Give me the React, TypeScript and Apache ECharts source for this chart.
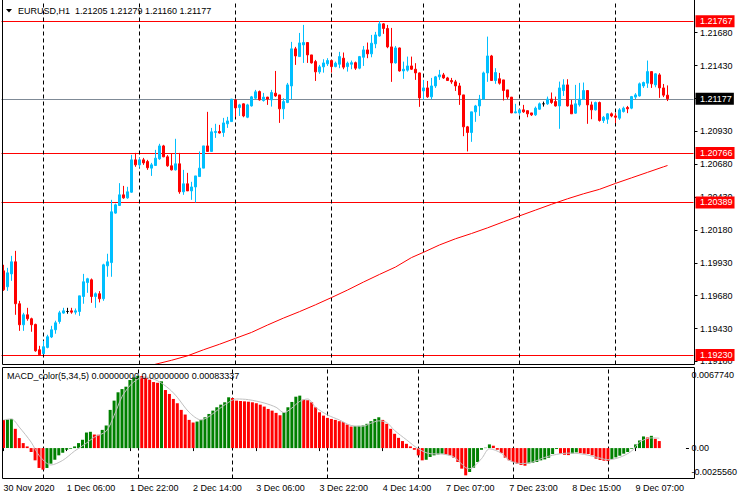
import React, { useEffect, useRef } from 'react';
import * as echarts from 'echarts';

const SYMBOL = 'EURUSD,H1';
const MACD_NAME = 'MACD_color(5,34,5)';
const MACD_HEADER_VALUES = ['0.00000000', '0.00000000', '0.00083337'];

// [open, high, low, close] per H1 bar, from 30 Nov 14:00 to 9 Dec 13:00
const OHLC: number[][] = [
  [1.19869, 1.19915, 1.19717, 1.19725], [1.19748, 1.19892, 1.19717, 1.19854], [1.19846, 1.19983, 1.19793, 1.19938],
  [1.19938, 1.20021, 1.19535, 1.19619], [1.19619, 1.19641, 1.19413, 1.19459], [1.19459, 1.19550, 1.19413, 1.19535],
  [1.19535, 1.19588, 1.19490, 1.19505], [1.19505, 1.19513, 1.19406, 1.19459], [1.19462, 1.19467, 1.19254, 1.19261],
  [1.19269, 1.19299, 1.19230, 1.19231], [1.19239, 1.19337, 1.19235, 1.19292], [1.19287, 1.19383, 1.19280, 1.19368],
  [1.19366, 1.19451, 1.19358, 1.19421], [1.19421, 1.19490, 1.19391, 1.19474], [1.19484, 1.19565, 1.19467, 1.19550],
  [1.19548, 1.19588, 1.19543, 1.19565], [1.19560, 1.19588, 1.19543, 1.19560], [1.19565, 1.19588, 1.19543, 1.19555],
  [1.19555, 1.19583, 1.19537, 1.19565], [1.19560, 1.19679, 1.19527, 1.19679], [1.19674, 1.19846, 1.19619, 1.19786],
  [1.19780, 1.19816, 1.19702, 1.19809], [1.19801, 1.19811, 1.19626, 1.19674], [1.19674, 1.19705, 1.19588, 1.19695],
  [1.19695, 1.19715, 1.19629, 1.19657], [1.19657, 1.19923, 1.19641, 1.19915], [1.19907, 1.19999, 1.19824, 1.19938],
  [1.19932, 1.20409, 1.19824, 1.20318], [1.20308, 1.20380, 1.20303, 1.20371], [1.20366, 1.20536, 1.20363, 1.20447],
  [1.20447, 1.20515, 1.20417, 1.20424], [1.20424, 1.20508, 1.20417, 1.20470], [1.20467, 1.20751, 1.20462, 1.20713],
  [1.20713, 1.20766, 1.20660, 1.20675], [1.20675, 1.20728, 1.20653, 1.20713], [1.20713, 1.20728, 1.20675, 1.20690],
  [1.20700, 1.20713, 1.20637, 1.20653], [1.20650, 1.20690, 1.20591, 1.20675], [1.20670, 1.20789, 1.20668, 1.20726],
  [1.20721, 1.20835, 1.20713, 1.20819], [1.20819, 1.20827, 1.20733, 1.20736], [1.20736, 1.20749, 1.20660, 1.20668],
  [1.20668, 1.20759, 1.20632, 1.20637], [1.20637, 1.20873, 1.20632, 1.20683], [1.20683, 1.20766, 1.20455, 1.20470],
  [1.20470, 1.20637, 1.20447, 1.20531], [1.20531, 1.20614, 1.20477, 1.20477], [1.20477, 1.20546, 1.20409, 1.20507],
  [1.20507, 1.20591, 1.20389, 1.20591], [1.20586, 1.20777, 1.20586, 1.20650], [1.20650, 1.20819, 1.20650, 1.20819],
  [1.20819, 1.21078, 1.20777, 1.20777], [1.20777, 1.20956, 1.20775, 1.20926], [1.20921, 1.20987, 1.20880, 1.20929],
  [1.20929, 1.20979, 1.20914, 1.20917], [1.20921, 1.21032, 1.20888, 1.20994], [1.20987, 1.21040, 1.20956, 1.21009],
  [1.21004, 1.21175, 1.21002, 1.21175], [1.21169, 1.21175, 1.21040, 1.21108], [1.21111, 1.21139, 1.21047, 1.21131],
  [1.21139, 1.21142, 1.21037, 1.21047], [1.21037, 1.21139, 1.21030, 1.21131], [1.21123, 1.21199, 1.21118, 1.21192],
  [1.21182, 1.21245, 1.21174, 1.21230], [1.21232, 1.21240, 1.21164, 1.21169], [1.21164, 1.21222, 1.21156, 1.21190],
  [1.21190, 1.21192, 1.21131, 1.21175], [1.21169, 1.21245, 1.21118, 1.21225], [1.21220, 1.21389, 1.21192, 1.21199],
  [1.21207, 1.21207, 1.20994, 1.21101], [1.21101, 1.21182, 1.21022, 1.21156], [1.21149, 1.21298, 1.21144, 1.21283],
  [1.21275, 1.21610, 1.21174, 1.21557], [1.21557, 1.21572, 1.21435, 1.21503], [1.21498, 1.21678, 1.21498, 1.21602],
  [1.21587, 1.21739, 1.21450, 1.21605], [1.21605, 1.21605, 1.21450, 1.21511], [1.21511, 1.21511, 1.21445, 1.21450],
  [1.21460, 1.21473, 1.21313, 1.21382], [1.21382, 1.21435, 1.21367, 1.21420], [1.21420, 1.21478, 1.21376, 1.21450],
  [1.21443, 1.21486, 1.21427, 1.21468], [1.21468, 1.21470, 1.21376, 1.21422], [1.21422, 1.21460, 1.21417, 1.21448],
  [1.21440, 1.21534, 1.21410, 1.21498], [1.21486, 1.21529, 1.21402, 1.21418], [1.21422, 1.21460, 1.21384, 1.21448],
  [1.21440, 1.21468, 1.21402, 1.21452], [1.21452, 1.21460, 1.21397, 1.21410], [1.21410, 1.21503, 1.21402, 1.21498],
  [1.21493, 1.21579, 1.21427, 1.21549], [1.21549, 1.21605, 1.21486, 1.21519], [1.21519, 1.21663, 1.21493, 1.21600],
  [1.21595, 1.21686, 1.21562, 1.21663], [1.21655, 1.21767, 1.21650, 1.21747], [1.21747, 1.21752, 1.21671, 1.21712],
  [1.21712, 1.21739, 1.21562, 1.21572], [1.21572, 1.21716, 1.21306, 1.21450], [1.21450, 1.21579, 1.21445, 1.21564],
  [1.21564, 1.21567, 1.21384, 1.21389], [1.21389, 1.21460, 1.21329, 1.21402], [1.21395, 1.21498, 1.21384, 1.21427],
  [1.21427, 1.21498, 1.21397, 1.21402], [1.21402, 1.21448, 1.21321, 1.21374], [1.21374, 1.21377, 1.21116, 1.21184],
  [1.21237, 1.21321, 1.21169, 1.21260], [1.21260, 1.21313, 1.21184, 1.21192], [1.21192, 1.21336, 1.21174, 1.21275],
  [1.21275, 1.21351, 1.21260, 1.21344], [1.21344, 1.21397, 1.21321, 1.21359], [1.21359, 1.21374, 1.21329, 1.21336],
  [1.21336, 1.21344, 1.21313, 1.21316], [1.21316, 1.21336, 1.21291, 1.21306], [1.21306, 1.21321, 1.21237, 1.21275],
  [1.21275, 1.21298, 1.21131, 1.21207], [1.21207, 1.21207, 1.20893, 1.20964], [1.20964, 1.20971, 1.20777, 1.20921],
  [1.20921, 1.21078, 1.20850, 1.21078], [1.21078, 1.21131, 1.21002, 1.21123], [1.21123, 1.21207, 1.21047, 1.21175],
  [1.21175, 1.21384, 1.21169, 1.21374], [1.21374, 1.21650, 1.21306, 1.21503], [1.21503, 1.21511, 1.21313, 1.21316],
  [1.21316, 1.21410, 1.21291, 1.21377], [1.21330, 1.21374, 1.21285, 1.21296], [1.21321, 1.21321, 1.21164, 1.21240],
  [1.21245, 1.21245, 1.21174, 1.21190], [1.21190, 1.21190, 1.21068, 1.21070], [1.21070, 1.21139, 1.21068, 1.21078],
  [1.21070, 1.21098, 1.21055, 1.21093], [1.21093, 1.21131, 1.21070, 1.21078], [1.21087, 1.21087, 1.21037, 1.21063],
  [1.21070, 1.21070, 1.21047, 1.21055], [1.21055, 1.21118, 1.21047, 1.21106], [1.21098, 1.21149, 1.21093, 1.21139],
  [1.21139, 1.21156, 1.21118, 1.21139], [1.21139, 1.21194, 1.21131, 1.21175], [1.21175, 1.21225, 1.21139, 1.21149],
  [1.21156, 1.21194, 1.21118, 1.21123], [1.21123, 1.21308, 1.20949, 1.21260], [1.21240, 1.21326, 1.21199, 1.21283],
  [1.21283, 1.21326, 1.21118, 1.21123], [1.21131, 1.21169, 1.21063, 1.21063], [1.21068, 1.21283, 1.21063, 1.21139],
  [1.21131, 1.21298, 1.21118, 1.21175], [1.21175, 1.21301, 1.21169, 1.21240], [1.21240, 1.21240, 1.20987, 1.21131],
  [1.21131, 1.21156, 1.21022, 1.21093], [1.21093, 1.21156, 1.21088, 1.21149], [1.21149, 1.21156, 1.21004, 1.21012],
  [1.21012, 1.21047, 1.20994, 1.21037], [1.21022, 1.21068, 1.20987, 1.21063], [1.21063, 1.21073, 1.21037, 1.21047],
  [1.21047, 1.21068, 1.20992, 1.21037], [1.21030, 1.21106, 1.21017, 1.21093], [1.21080, 1.21118, 1.21073, 1.21106],
  [1.21111, 1.21123, 1.21068, 1.21101], [1.21106, 1.21199, 1.21098, 1.21194], [1.21190, 1.21220, 1.21175, 1.21207],
  [1.21199, 1.21301, 1.21194, 1.21291], [1.21275, 1.21308, 1.21260, 1.21301], [1.21296, 1.21468, 1.21260, 1.21384],
  [1.21384, 1.21384, 1.21260, 1.21291], [1.21283, 1.21372, 1.21265, 1.21367], [1.21359, 1.21372, 1.21184, 1.21260],
  [1.21260, 1.21290, 1.21190, 1.21205], [1.21205, 1.21279, 1.21160, 1.21177],
];

// moving average (red curve), read at these bars
const MA_BARS = [34, 38, 42, 46, 50, 54, 58, 62, 66, 70, 74, 78, 82, 86, 90, 94, 98, 102, 105, 109, 113, 117, 121, 125, 129, 133, 137, 141, 145, 149, 153, 157, 161, 165, 166];
const MA_VALUES = [1.19125, 1.19159, 1.19189, 1.19223, 1.19269, 1.19311, 1.19356, 1.19401, 1.19457, 1.19510, 1.19559, 1.19611, 1.19666, 1.19723, 1.19784, 1.19842, 1.19898, 1.19970, 1.20010, 1.20066, 1.20113, 1.20153, 1.20196, 1.20242, 1.20287, 1.20331, 1.20375, 1.20417, 1.20455, 1.20489, 1.20534, 1.20576, 1.20618, 1.20660, 1.20670];

// MACD histogram, one value per bar
const MACD_HIST = [
  0.00237, 0.00240, 0.00245, 0.00162, 0.00084, 0.00042, 0.00014, -0.00033, -0.00103, -0.00167,
  -0.00181, -0.00167, -0.00131, -0.00098, -0.00061, -0.00039, -0.00014, -0.00006, 0.00014, 0.00042,
  0.00070, 0.00131, 0.00137, 0.00114, 0.00112, 0.00153, 0.00190, 0.00321, 0.00399, 0.00469,
  0.00496, 0.00516, 0.00572, 0.00594, 0.00608, 0.00605, 0.00588, 0.00575, 0.00555, 0.00549,
  0.00561, 0.00488, 0.00455, 0.00413, 0.00377, 0.00321, 0.00282, 0.00237, 0.00215, 0.00223,
  0.00237, 0.00259, 0.00287, 0.00315, 0.00343, 0.00365, 0.00385, 0.00427, 0.00421, 0.00399,
  0.00396, 0.00393, 0.00390, 0.00385, 0.00377, 0.00365, 0.00349, 0.00329, 0.00315, 0.00296,
  0.00276, 0.00301, 0.00343, 0.00388, 0.00432, 0.00441, 0.00407, 0.00402, 0.00385, 0.00343,
  0.00301, 0.00273, 0.00254, 0.00245, 0.00237, 0.00226, 0.00218, 0.00198, 0.00181, 0.00184,
  0.00187, 0.00190, 0.00204, 0.00226, 0.00245, 0.00259, 0.00237, 0.00204, 0.00162, 0.00120,
  0.00086, 0.00059, 0.00036, 0.00014, -0.00014, -0.00061, -0.00103, -0.00098, -0.00075, -0.00061,
  -0.00053, -0.00047, -0.00053, -0.00061, -0.00081, -0.00117, -0.00173, -0.00229, -0.00201, -0.00165,
  -0.00117, -0.00014, 0.00003, 0.00031, 0.00020, -0.00014, -0.00042, -0.00081, -0.00103, -0.00117,
  -0.00131, -0.00142, -0.00148, -0.00128, -0.00123, -0.00117, -0.00103, -0.00095, -0.00081, -0.00050,
  -0.00008, -0.00047, -0.00056, -0.00059, -0.00045, -0.00036, -0.00042, -0.00047, -0.00050, -0.00061,
  -0.00089, -0.00100, -0.00106, -0.00109, -0.00092, -0.00078, -0.00064, -0.00047, -0.00033, -0.00006,
  0.00031, 0.00064, 0.00098, 0.00089, 0.00103, 0.00078, 0.00059,
];

// MACD signal line (silver), read at these bars
const SIGNAL_BARS = [0, 2, 4, 7, 9, 12, 15, 18, 21, 23, 26, 28, 30, 32, 34, 36, 39, 42, 44, 47, 50, 52, 54, 57, 59, 62, 66, 69, 71, 73, 75, 77, 79, 82, 85, 88, 91, 93, 95, 97, 99, 102, 105, 108, 111, 114, 117, 118, 121, 123, 126, 128, 131, 134, 137, 141, 144, 147, 151, 153, 156, 159, 161, 164, 166];
const SIGNAL_VALUES = [0.00237, 0.00245, 0.00176, 0.00050, -0.00061, -0.00142, -0.00103, -0.00025, 0.00042, 0.00092, 0.00142, 0.00273, 0.00432, 0.00524, 0.00580, 0.00597, 0.00566, 0.00496, 0.00427, 0.00301, 0.00237, 0.00265, 0.00315, 0.00385, 0.00413, 0.00407, 0.00379, 0.00343, 0.00298, 0.00337, 0.00393, 0.00413, 0.00343, 0.00279, 0.00237, 0.00190, 0.00184, 0.00209, 0.00229, 0.00215, 0.00148, 0.00070, -0.00006, -0.00047, -0.00050, -0.00075, -0.00165, -0.00173, -0.00089, -0.00006, -0.00042, -0.00103, -0.00131, -0.00117, -0.00078, -0.00047, -0.00042, -0.00053, -0.00084, -0.00098, -0.00078, -0.00025, 0.00050, 0.00086, 0.00083];

const LEVELS = [1.21767, 1.20766, 1.20389, 1.19230];
const BID = 1.21177;
const PRICE_MIN = 1.19157;
const PRICE_MAX = 1.21917;
const PRICE_TICKS = [1.1918, 1.1943, 1.1968, 1.1993, 1.2018, 1.2043, 1.2068, 1.2093, 1.2118, 1.2143, 1.2168];
const MACD_MIN = -0.002556;
const MACD_MAX = 0.006774;
const MACD_TICKS = [-0.002556, 0, 0.006774];
const MACD_TICK_LABELS = ['-0.0025560', '0.00', '0.0067740'];
const LABEL_BARS = [0, 16, 32, 48, 64, 80, 96, 112, 128, 144, 160];
const TIME_LABELS = ['30 Nov 2020', '1 Dec 06:00', '1 Dec 22:00', '2 Dec 14:00', '3 Dec 06:00', '3 Dec 22:00', '4 Dec 14:00', '7 Dec 07:00', '7 Dec 23:00', '8 Dec 15:00', '9 Dec 07:00'];
const DAY_BARS = [10, 34, 58, 82, 105, 129, 153];
const SLOTS = 173;

const FONT = '"Liberation Sans", Arial, sans-serif';
const FS = 9;

function buildOption(): any {
  const cats = Array.from({ length: SLOTS }, (_, i) => String(i));
  const candleData = OHLC.map(([o, h, l, c]) => [o, c, l, h]);
  const histData = MACD_HIST.map((v, i) => ({
    value: v,
    itemStyle: { color: i > 0 && v > MACD_HIST[i - 1] ? '#008000' : '#ff0000' },
  }));
  const maData = MA_BARS.map((b, i) => [b, MA_VALUES[i]]);
  const sigData = SIGNAL_BARS.map((b, i) => [b, SIGNAL_VALUES[i]]);
  const last = OHLC[OHLC.length - 1];
  const header = `${SYMBOL}  ${last.map((v) => v.toFixed(5)).join(' ')}`;
  const macdHeader = `${MACD_NAME} ${MACD_HEADER_VALUES.join(' ')}`;
  const isLabelBar = (i: number) => LABEL_BARS.indexOf(i) >= 0;

  const priceLabel = (v: number, bg: string) => ({
    show: true,
    position: 'end',
    distance: 2,
    formatter: v.toFixed(5),
    backgroundColor: bg,
    color: '#ffffff',
    fontFamily: FONT,
    fontSize: FS,
    lineHeight: 9,
    padding: [2, 2, 1, 4.5],
  });

  return {
    animation: false,
    backgroundColor: '#ffffff',
    grid: [
      { left: 1.5, top: 1.5, width: 692, height: 363 },
      { left: 1.5, top: 367.5, width: 692, height: 111 },
    ],
    xAxis: [
      {
        type: 'category', gridIndex: 0, data: cats, boundaryGap: true, show: false,
        axisLine: { show: false }, axisTick: { show: false }, axisLabel: { show: false }, splitLine: { show: false },
      },
      {
        type: 'category', gridIndex: 1, data: cats, boundaryGap: true,
        axisLine: { show: false },
        axisTick: {
          show: true, alignWithLabel: true, length: 3,
          interval: (i: number) => isLabelBar(i),
          lineStyle: { color: '#000000' },
        },
        axisLabel: {
          show: true, interval: (i: number) => isLabelBar(i), align: 'left', margin: 5,
          fontFamily: FONT, fontSize: FS, color: '#000000',
          formatter: (v: string) => {
            const k = LABEL_BARS.indexOf(Number(v));
            return k >= 0 ? TIME_LABELS[k] : '';
          },
        },
        splitLine: { show: false },
      },
    ],
    yAxis: [
      {
        type: 'value', gridIndex: 0, position: 'right', offset: 1, min: PRICE_MIN, max: PRICE_MAX,
        axisLine: { show: false }, splitLine: { show: false },
        axisTick: { show: true, length: 3, customValues: PRICE_TICKS, lineStyle: { color: '#000000' } },
        axisLabel: {
          customValues: PRICE_TICKS, margin: 5.5, fontFamily: FONT, fontSize: FS, color: '#000000',
          formatter: (v: number) => v.toFixed(5),
        },
      },
      {
        type: 'value', gridIndex: 1, position: 'right', offset: 1, min: MACD_MIN, max: MACD_MAX,
        axisLine: { show: false }, splitLine: { show: false },
        axisTick: { show: true, length: 3, customValues: [0], lineStyle: { color: '#000000' } },
        axisLabel: {
          customValues: MACD_TICKS, margin: 5.5, fontFamily: FONT, fontSize: FS, color: '#000000',
          formatter: (v: number) => {
            let k = 0;
            for (let j = 0; j < MACD_TICKS.length; j++) if (Math.abs(MACD_TICKS[j] - v) < 1e-7) k = j;
            const t = MACD_TICK_LABELS[k];
            if (k === 0) return `{b|${t}}`;
            if (k === MACD_TICKS.length - 1) return `{t|${t}}`;
            return t;
          },
          rich: {
            t: { fontFamily: FONT, fontSize: FS, color: '#000000', padding: [15, 0, 0, 0] },
            b: { fontFamily: FONT, fontSize: FS, color: '#000000', padding: [0, 0, 13, 0] },
          },
        },
      },
    ],
    graphic: [
      { type: 'rect', silent: true, z: 100, shape: { x: 2.5, y: -1, width: 692, height: 365.5 }, style: { fill: 'none', stroke: '#000000', lineWidth: 1 } },
      { type: 'rect', silent: true, z: 100, shape: { x: 2.5, y: 367.5, width: 692, height: 111 }, style: { fill: 'none', stroke: '#000000', lineWidth: 1 } },
      { type: 'polygon', silent: true, z: 100, shape: { points: [[6, 9], [12, 9], [9, 12.5]] }, style: { fill: '#000000' } },
      { type: 'text', silent: true, z: 100, x: 18, y: 10.5, style: { text: header, fill: '#000000', fontFamily: FONT, fontSize: FS, verticalAlign: 'middle' } },
      { type: 'text', silent: true, z: 100, x: 7, y: 376, style: { text: macdHeader, fill: '#000000', fontFamily: FONT, fontSize: FS, verticalAlign: 'middle' } },
    ],
    series: [
      {
        type: 'line', xAxisIndex: 0, yAxisIndex: 0, data: maData, symbol: 'none', z: 1,
        lineStyle: { color: '#ff0000', width: 1 },
        markLine: {
          silent: true, symbol: ['none', 'none'], z: 1, precision: 5,
          data: [
            ...LEVELS.map((v) => ({ yAxis: v, lineStyle: { color: '#ff0000', width: 1, type: 'solid' }, label: priceLabel(v, '#ff0000') })),
            { yAxis: BID, lineStyle: { color: '#7f8a96', width: 1, type: 'solid' }, label: priceLabel(BID, '#000000') },
            ...DAY_BARS.map((b) => ({ xAxis: b, lineStyle: { color: '#000000', width: 1, type: [4, 3] }, label: { show: false } })),
          ],
        },
      },
      {
        type: 'candlestick', xAxisIndex: 0, yAxisIndex: 0, data: candleData, barWidth: 2, z: 3,
        itemStyle: {
          color: '#00bfff', color0: '#ff0000', borderColor: '#00bfff', borderColor0: '#ff0000',
          borderColorDoji: '#000000', borderWidth: 1,
        },
      },
      {
        type: 'bar', xAxisIndex: 1, yAxisIndex: 1, data: histData, barWidth: 3, z: 2,
        markLine: {
          silent: true, symbol: ['none', 'none'], z: 1, precision: 5,
          data: DAY_BARS.map((b) => ({ xAxis: b, lineStyle: { color: '#000000', width: 1, type: [4, 3] }, label: { show: false } })),
        },
      },
      {
        type: 'line', xAxisIndex: 1, yAxisIndex: 1, data: sigData, symbol: 'none', smooth: 0.3, z: 4,
        lineStyle: { color: '#c0c0c0', width: 1 },
      },
    ],
  };
}

export default function App() {
  const ref = useRef<HTMLDivElement>(null);
  useEffect(() => {
    if (!ref.current) return;
    const chart = echarts.init(ref.current, undefined, { renderer: 'svg' });
    chart.setOption(buildOption());
    return () => chart.dispose();
  }, []);
  return (
    <div
      ref={ref}
      style={{ position: 'fixed', left: 0, top: 0, width: 740, height: 500, background: '#ffffff' }}
    />
  );
}
